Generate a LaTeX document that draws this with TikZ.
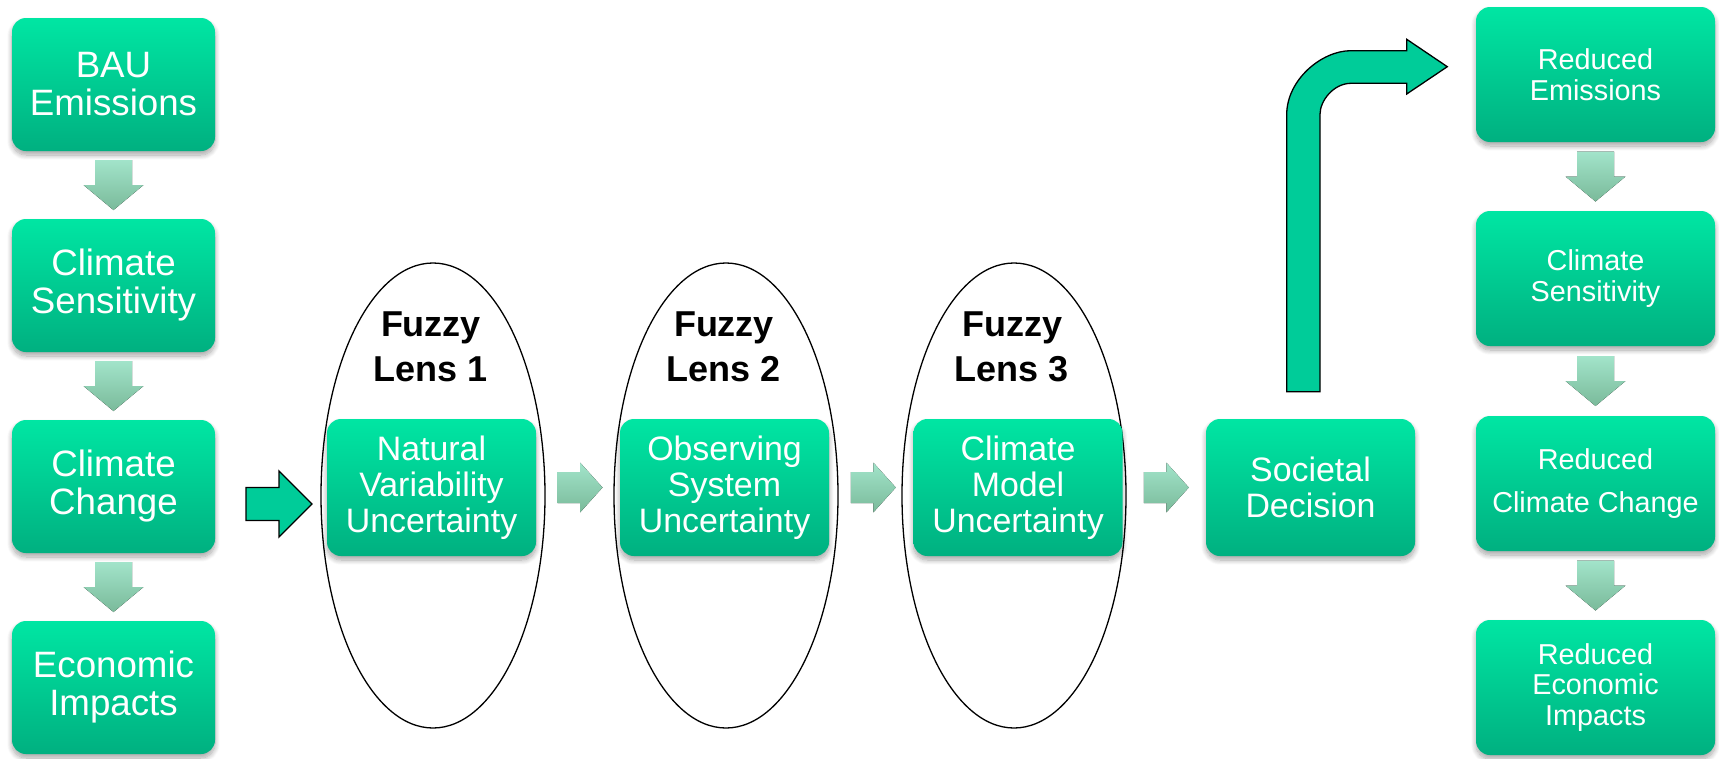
\documentclass[tikz,border=0pt]{standalone}
\usepackage{fontspec}
\setmainfont{Liberation Sans}
\usetikzlibrary{shapes.geometric,calc,shadows.blur}

\definecolor{boxTop}{RGB}{0,230,163}
\definecolor{boxBot}{RGB}{0,176,128}
\definecolor{paleTop}{RGB}{162,228,202}
\definecolor{paleBot}{RGB}{122,186,154}
\definecolor{arrowFill}{RGB}{0,204,153}

\tikzset{
  card/.style={rectangle, rounded corners=14pt, top color=boxTop, bottom color=boxBot,
    draw=none, text=white, align=center, inner sep=0pt,
    blur shadow={shadow xshift=0pt, shadow yshift=-4pt, shadow blur radius=5pt,
                 shadow blur steps=10, shadow opacity=35}},
  leftcard/.style={card, minimum width=203pt, minimum height=133pt,
    font=\fontsize{36.7}{38}\selectfont},
  midcard/.style={card, minimum width=209pt, minimum height=137pt,
    font=\fontsize{33.9}{36}\selectfont},
  rightcard/.style={card, minimum width=239pt, minimum height=135pt,
    font=\fontsize{28.8}{31}\selectfont},
  lens/.style={ellipse, draw=black, line width=1.3pt, fill=none,
    minimum width=224pt, minimum height=465pt, inner sep=0pt},
  lenslabel/.style={font=\bfseries\fontsize{36}{45}\selectfont, align=center, text=black},
  boldarrow/.style={fill=arrowFill, draw=black, line width=1.3pt, line join=miter},
  pics/downarrow/.style={code={
    \fill[top color=paleTop, bottom color=paleBot]
      (-18.5,-25) -- (18.5,-25) -- (18.5,0) -- (30,0) -- (0,25) -- (-30,0) -- (-18.5,0) -- cycle;}},
  pics/rightarrow/.style={code={
    \fill[top color=paleTop, bottom color=paleBot]
      (-22.5,-15.5) -- (0,-15.5) -- (0,-25) -- (22.5,0) -- (0,25) -- (0,15.5) -- (-22.5,15.5) -- cycle;}},
}

\begin{document}
\begin{tikzpicture}[x=1pt, y=-1pt]
\useasboundingbox (0,0) rectangle (1719,758);

% fuzzy lenses
\node[lens] (lensA) at (433,495.5) {};
\node[lens] (lensB) at (726,495.5) {};
\node[lens] (lensC) at (1014,495.5) {};
\node[lenslabel] (labA) at (431,347) {Fuzzy\\Lens 1};
\node[lenslabel] (labB) at (724,347) {Fuzzy\\Lens 2};
\node[lenslabel] (labC) at (1012,347) {Fuzzy\\Lens 3};

% business-as-usual chain
\node[leftcard] (bau) at (113.5,84.5) {BAU\\Emissions};
\node[leftcard] (sens) at (113.5,285.5) {Climate\\Sensitivity};
\node[leftcard] (change) at (113.5,486.5) {Climate\\Change};
\node[leftcard] (impact) at (113.5,687.5) {Economic\\Impacts};

\pic at ($(bau.south)!0.5!(sens.north)$) {downarrow};
\pic at ($(sens.south)!0.5!(change.north)$) {downarrow};
\pic at ($(change.south)!0.5!(impact.north)$) {downarrow};

% uncertainty chain
\node[midcard] (natural) at (431.5,487.5) {Natural\\Variability\\Uncertainty};
\node[midcard] (observe) at (724.5,487.5) {Observing\\System\\Uncertainty};
\node[midcard] (model) at (1018,487.5) {Climate\\Model\\Uncertainty};
\node[midcard, font=\fontsize{33.9}{36}\selectfont] (decide) at (1310.5,487.5) {Societal\\Decision};

\pic at ($(natural.east)!0.5!(observe.west)+(2,0)$) {rightarrow};
\pic at ($(observe.east)!0.5!(model.west)+(2,0)$) {rightarrow};
\pic at ($(model.east)!0.5!(decide.west)+(2,0)$) {rightarrow};

% mitigated chain
\node[rightcard] (redem) at (1595.5,74.5) {Reduced\\Emissions};
\node[rightcard, font=\fontsize{28.8}{31}\selectfont] (rsens) at (1595.5,278.5) {Climate\\Sensitivity};
\node[rightcard, font=\fontsize{28.8}{43.5}\selectfont] (rchange) at (1595.5,483.5) {Reduced\\Climate Change};
\node[rightcard, font=\fontsize{28.8}{30.5}\selectfont] (rimpact) at (1595.5,687.5) {Reduced\\Economic\\Impacts};

\pic at ($(redem.south)!0.5!(rsens.north)$) {downarrow};
\pic at ($(rsens.south)!0.5!(rchange.north)$) {downarrow};
\pic at ($(rchange.south)!0.5!(rimpact.north)$) {downarrow};

% entry arrow into the first lens
\draw[boldarrow] (246,487.5) -- (279,487.5) -- (279,471) -- (312,504) -- (279,537)
  -- (279,520.5) -- (246,520.5) -- cycle;

% bent arrow from the decision to reduced emissions
\draw[boldarrow] (1286.7,391.7) -- (1286.7,114.7)
  .. controls (1286.7,79.4) and (1322,50.7) .. (1350.7,50.7)
  -- (1406.7,50.7) -- (1406.7,39.3) -- (1447.3,66.7) -- (1406.7,94)
  -- (1406.7,83.3) -- (1351,83.3)
  .. controls (1333.9,83.3) and (1320,100.4) .. (1320,114.3)
  -- (1320,391.7) -- cycle;
\end{tikzpicture}
\end{document}
